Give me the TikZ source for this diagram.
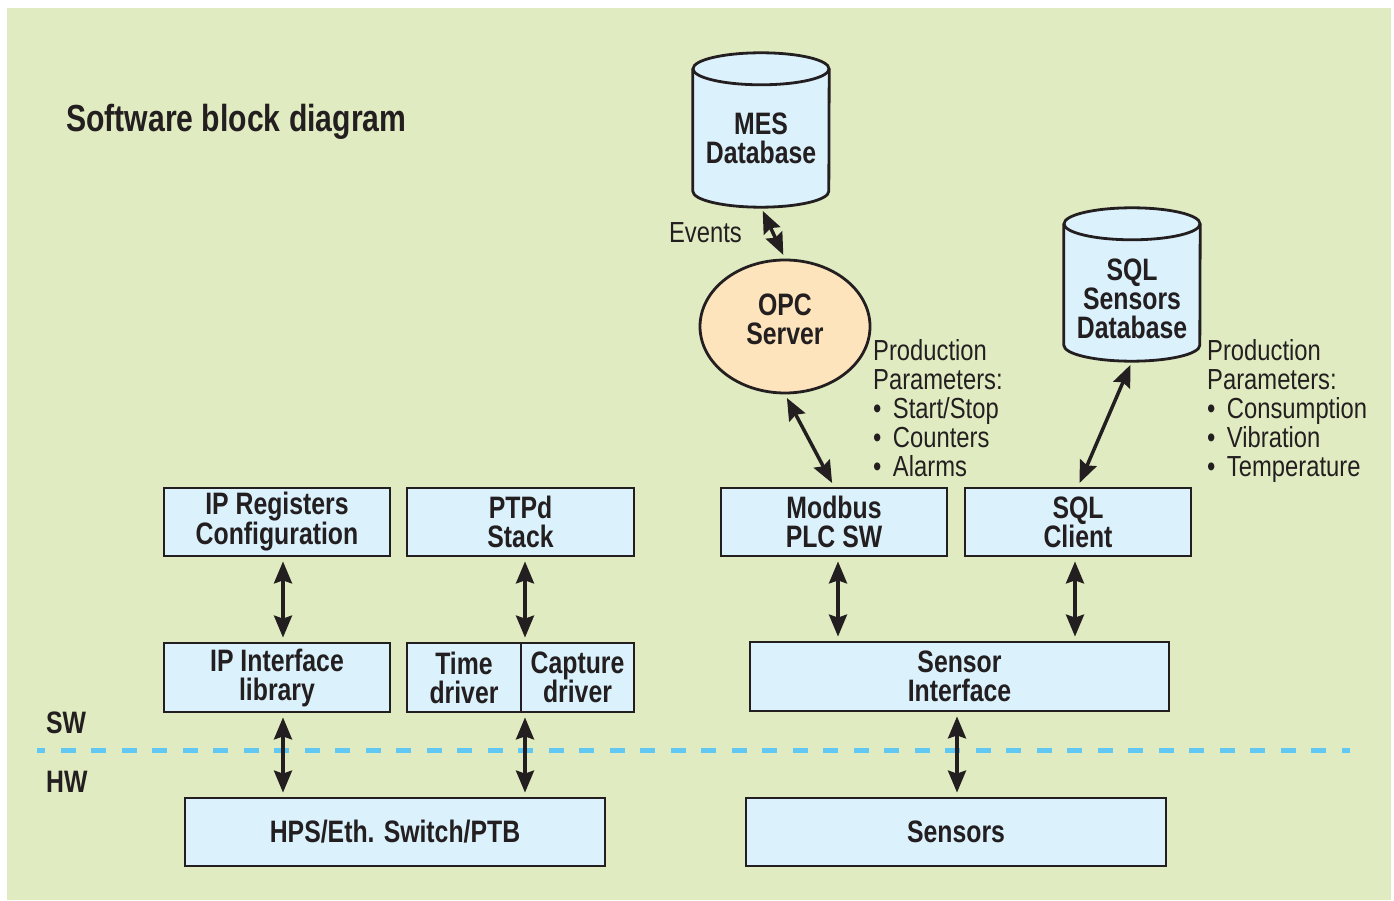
\documentclass[tikz,border=0pt]{standalone}
\usepackage{fontspec}
\setmainfont{Liberation Sans}[FakeStretch=0.8]
\newfontfamily\regfont{Liberation Sans}[FakeStretch=0.82]
\usetikzlibrary{arrows.meta,calc,shapes.geometric}
\definecolor{bg}{RGB}{225,235,193}
\definecolor{boxfill}{RGB}{219,241,252}
\definecolor{opcfill}{RGB}{253,228,188}
\definecolor{ink}{RGB}{35,31,32}
\definecolor{dashblue}{RGB}{96,200,242}
\newcommand{\bigbul}{\textbullet\ \,}
\begin{document}
\begin{tikzpicture}[x=1pt,y=1pt,
  every node/.style={text=ink},
  boldfont/.style={font=\fontsize{31}{29}\selectfont\bfseries},
  blk/.style={draw=ink, line width=2.8pt, fill=boxfill, inner sep=0pt, boldfont, align=center},
  cylbody/.style={inner sep=0pt, minimum width=136pt},
  boldtxt/.style={boldfont, align=center, inner sep=0pt},
  txt/.style={font=\regfont\fontsize{29}{29}\selectfont, inner sep=0pt, anchor=base west},
  outline/.style={draw=ink, line width=2.8pt},
  conn/.style={line width=3.5pt, draw=ink,
    {Stealth[length=22pt,width=18pt,inset=3pt]}-{Stealth[length=22pt,width=18pt,inset=3pt]},
    shorten <=4pt, shorten >=4pt},
]
\useasboundingbox (0,0) rectangle (1394,900);
\fill[white] (0,0) rectangle (1394,900);
\fill[bg] (7,0) rectangle (1391,892);

% title
\node[anchor=base west, inner sep=0pt, font=\fontsize{37.7}{38}\selectfont\bfseries] (title) at (66,768) {Software block diagram};

% SW / HW separator
\coordinate (dl) at (37,149.5);
\coordinate (dr) at (1350,149.5);
\draw[dashblue, line width=5pt, dash pattern=on 15pt off 15.5pt, dash phase=7pt] (dl) -- (dr);
\node[anchor=base west, inner sep=0pt, boldfont] (sw) at (46,167) {SW};
\node[anchor=base west, inner sep=0pt, boldfont] (hw) at (46,108) {HW};

% boxes
\node[blk, minimum width=226pt, minimum height=68pt] (ipreg) at (277,378) {IP Registers\\Configuration};
\node[blk, minimum width=227pt, minimum height=68pt] (ptpd) at (520.5,378) {PTPd\\Stack};
\node[blk, minimum width=226pt, minimum height=69pt] (ipif) at (277,222.5) {IP Interface\\library};
\node[blk, minimum width=114pt, minimum height=69pt] (timed) at (464,222.5) {Time\\driver};
\node[blk, minimum width=113pt, minimum height=69pt] (capd) at (577.5,222.5) {Capture\\driver};
\node[blk, minimum width=420pt, minimum height=68pt] (hps) at (395,68) {HPS/Eth. Switch/PTB};
\node[blk, minimum width=226pt, minimum height=68pt] (modbus) at (834,378) {Modbus\\PLC SW};
\node[blk, minimum width=226pt, minimum height=68pt] (sqlc) at (1078,378) {SQL\\Client};
\node[blk, minimum width=419pt, minimum height=69pt] (sensif) at (959.5,223.5) {Sensor\\Interface};
\node[blk, minimum width=420pt, minimum height=68pt] (sensors) at (956,68) {Sensors};

% databases
\node[cylbody, minimum height=154pt] (mes) at (761,770) {};
\node[cylbody, minimum height=153pt] (sqldb) at (1132,615.5) {};
\foreach \db in {mes,sqldb}{
  \fill[boxfill] ($(\db.north west)+(0,-16)$) -- ($(\db.south west)+(0,16)$)
    arc[start angle=180,end angle=360,x radius=68,y radius=16]
    -- ($(\db.north east)+(0,-16)$)
    arc[start angle=0,end angle=180,x radius=68,y radius=16] -- cycle;
  \draw[outline] ($(\db.north west)+(0,-16)$) -- ($(\db.south west)+(0,16)$)
    arc[start angle=180,end angle=360,x radius=68,y radius=16]
    -- ($(\db.north east)+(0,-16)$);
  \draw[outline] ($(\db.north)+(0,-16)$) ellipse[x radius=68,y radius=16];
}
\node[boldtxt] (mestxt) at (761,762) {MES\\Database};
\node[boldtxt] (sqltxt) at (1132,601) {SQL\\Sensors\\Database};

% OPC server
\node[ellipse, outline, fill=opcfill, minimum width=170pt, minimum height=133pt, inner sep=0pt] (opc) at (785,573.5) {};
\node[boldtxt] (opctxt) at (785,581) {OPC\\Server};

% labels
\node[txt, anchor=base east] (events) at (742,657) {Events};
\foreach \t [count=\i] in {Production,Parameters:,{\bigbul Start/Stop},{\bigbul Counters},{\bigbul Alarms}}
  \node[txt] (pa\i) at (873,{539-29*(\i-1)}) {\t};
\foreach \t [count=\i] in {Production,Parameters:,{\bigbul Consumption},{\bigbul Vibration},{\bigbul Temperature}}
  \node[txt] (pb\i) at (1207,{539-29*(\i-1)}) {\t};

% connectors
\draw[conn] (mes.south) -- (opc.north);
\draw[conn] (opc.south) -- (modbus.north);
\draw[conn] (sqldb.south) -- (sqlc.north);
\draw[conn] ([xshift=6pt]ipreg.south) -- ([xshift=6pt]ipif.north);
\draw[conn] ([xshift=4.5pt]ptpd.south) -- ([xshift=4.5pt]ptpd.south |- capd.north);
\draw[conn] ([xshift=6pt]ipif.south) -- ([xshift=6pt]ipif.south |- hps.north);
\draw[conn] ([xshift=4.5pt]ptpd.south |- capd.south) -- ([xshift=4.5pt]ptpd.south |- hps.north);
\draw[conn] ([xshift=4pt]modbus.south) -- ([xshift=4pt]modbus.south |- sensif.north);
\draw[conn] ([xshift=-3pt]sqlc.south) -- ([xshift=-3pt]sqlc.south |- sensif.north);
\draw[conn] ([xshift=-2.5pt]sensif.south) -- ([xshift=-2.5pt]sensif.south |- sensors.north);
\end{tikzpicture}
\end{document}
